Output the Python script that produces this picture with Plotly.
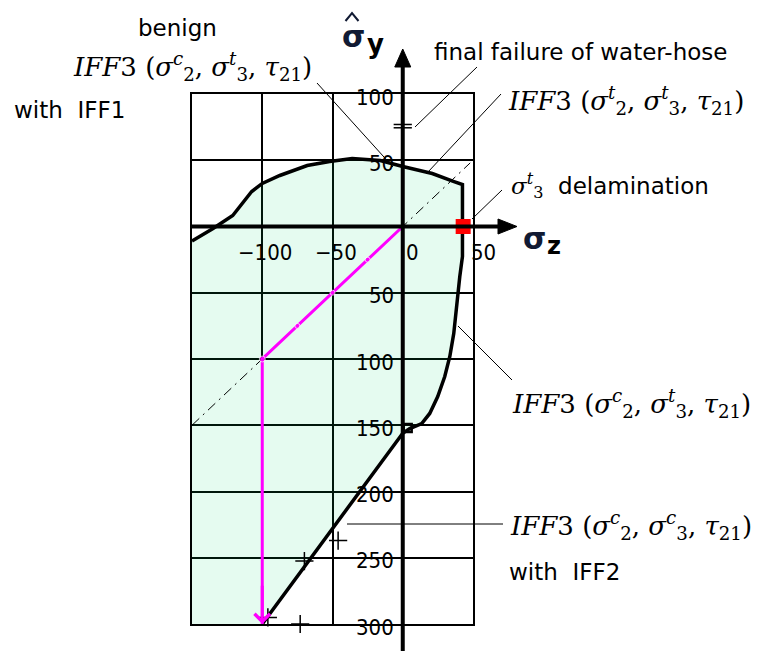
import plotly.graph_objects as go

# ---- data -------------------------------------------------------------
# failure envelope (sigma_z, sigma_y): top branch, vertical step, right branch, IFF2 diagonal
envelope_x = [-150, -135, -121, -107.5, -100, -87.5, -68, -52, -36, -16, 0, 21, 36, 42.5,
              42.5, 42.5, 40.6, 38.2, 36.3, 33.5, 29.9, 24.9, 19.2, 13.5, 5, 0, -48.4, -100]
envelope_y = [-11, -1.5, 8.3, 26.4, 32.5, 38.5, 46, 49, 51.3, 49.8, 45.3, 40, 34, 31.7,
              0, -22.6, -37.7, -63.4, -80.8, -98.1, -113.2, -128.3, -141.1, -148.7, -152.5, -156, -225.7, -300]

# load path (magenta): proportional loading then sigma_y only
path_x = [0, -25, -50, -75, -100, -100]
path_y = [0, -25, -50, -75, -100, -300]

# proportional loading ray sigma_y = sigma_z
ray_x = [-150, 48]
ray_y = [-150, 48]

# delamination point on the sigma_z axis
delam_x = [43]
delam_y = [0]

# computed points near the IFF2 branch
cross_x = [-46, -70, -96, -73]
cross_y = [-237, -252.5, -295, -300]

# water-hose final failure mark on the sigma_y axis
hose_x = [0, 0]
hose_y = [77, 74.5]

# mark where the right branch meets the sigma_y axis
meet_x = [3.5]
meet_y = [-152]

x_ticks = [-100, -50, 0, 50]
y_ticks = [100, 50, -50, -100, -150, -200, -250, -300]

X_RANGE = [-150, 50]
Y_RANGE = [-300, 100]

# ---- layout geometry ----------------------------------------------------
W, H = 759, 651
ML, MR, MT, MB = 192, 286, 94, 27
PW, PH = W - ML - MR, H - MT - MB


def xp(px):
    return (px - ML) / PW


def yp(py):
    return (H - MB - py) / PH


def dx(v):
    return (v - X_RANGE[0]) / (X_RANGE[1] - X_RANGE[0])


def dy(v):
    return (v - Y_RANGE[0]) / (Y_RANGE[1] - Y_RANGE[0])


SANS = "DejaVu Sans, Liberation Sans, sans-serif"
NARROW = "Liberation Sans Narrow, DejaVu Sans Condensed, Liberation Sans, sans-serif"
SERIF = "DejaVu Serif, Liberation Serif, serif"

fig = go.Figure()

# safe region fill
fig.add_trace(go.Scatter(
    x=envelope_x + [-150], y=envelope_y + [-300],
    fill="toself", fillcolor="rgba(0,215,110,0.10)",
    mode="lines", line=dict(width=0), hoverinfo="skip", showlegend=False))

# proportional ray
fig.add_trace(go.Scatter(
    x=ray_x, y=ray_y, mode="lines",
    line=dict(color="black", width=1, dash="10px,5px,2px,5px"),
    hoverinfo="skip", showlegend=False))

# envelope outline
fig.add_trace(go.Scatter(
    x=envelope_x, y=envelope_y, mode="lines",
    line=dict(color="black", width=3.5), hoverinfo="skip", showlegend=False))

# load path
fig.add_trace(go.Scatter(
    x=path_x, y=path_y, mode="lines+markers",
    line=dict(color="#ff00ff", width=3),
    marker=dict(color="#ff00ff", size=[0, 5, 5, 5, 6, 0]),
    hoverinfo="skip", showlegend=False))

# point markers
fig.add_trace(go.Scatter(
    x=cross_x, y=cross_y, mode="markers", cliponaxis=False,
    marker=dict(symbol="cross-thin", size=13, line=dict(color="black", width=1.5)),
    hoverinfo="skip", showlegend=False))
fig.add_trace(go.Scatter(
    x=hose_x, y=hose_y, mode="markers", cliponaxis=False,
    marker=dict(symbol="line-ew", size=13, line=dict(color="black", width=1.5)),
    hoverinfo="skip", showlegend=False))
fig.add_trace(go.Scatter(
    x=meet_x, y=meet_y, mode="markers", cliponaxis=False,
    marker=dict(symbol="square-open", size=8, color="black", line=dict(color="black", width=2.5)),
    hoverinfo="skip", showlegend=False))
fig.add_trace(go.Scatter(
    x=delam_x, y=delam_y, mode="markers", cliponaxis=False,
    marker=dict(symbol="square", size=15, color="#ff0000"),
    hoverinfo="skip", showlegend=False))

shapes = []
# sigma_y axis with arrow
x0p = dx(0)
shapes.append(dict(type="line", xref="paper", yref="paper", x0=x0p, x1=x0p,
                   y0=yp(H), y1=yp(64), line=dict(color="black", width=4)))
shapes.append(dict(type="path", xref="paper", yref="paper",
                   path=f"M{x0p - 8 / PW},{yp(67)} L{x0p},{yp(49)} L{x0p + 8 / PW},{yp(67)} Z",
                   fillcolor="black", line=dict(color="black", width=1)))
# sigma_z axis with arrow
y0p = dy(0)
shapes.append(dict(type="line", xref="paper", yref="paper", x0=dx(-150), x1=xp(501),
                   y0=y0p, y1=y0p, line=dict(color="black", width=4)))
shapes.append(dict(type="path", xref="paper", yref="paper",
                   path=f"M{xp(498)},{y0p + 7.5 / PH} L{xp(517)},{y0p} L{xp(498)},{y0p - 7.5 / PH} Z",
                   fillcolor="black", line=dict(color="black", width=1)))
# hat over the sigma_y symbol
shapes.append(dict(type="path", xref="paper", yref="paper",
                   path=f"M{xp(345.5)},{yp(21)} L{xp(352)},{yp(13)} L{xp(358.5)},{yp(21)}",
                   line=dict(color="#111a33", width=2)))

# leader lines
leaders = [((317, 83), (393, 167)),
           ((477, 67), (415, 127)),
           ((501, 94), (428, 172)),
           ((502, 190), (472, 219)),
           ((512, 380), (458, 326)),
           ((347, 524), (503, 524))]
for (a, b) in leaders:
    shapes.append(dict(type="line", xref="paper", yref="paper",
                       x0=xp(a[0]), y0=yp(a[1]), x1=xp(b[0]), y1=yp(b[1]),
                       line=dict(color="black", width=1)))

annotations = []


def label(text, px, py, size, family=SANS, xanchor="left", color="black"):
    annotations.append(dict(text=text, xref="paper", yref="paper", x=xp(px), y=yp(py),
                            xanchor=xanchor, yanchor="middle", showarrow=False,
                            font=dict(family=family, size=size, color=color)))


# tick labels next to the axes
for v in x_ticks:
    lab = str(v).replace("-", "−")
    annotations.append(dict(text=lab, xref="x", yref="paper", x=v, y=yp(252),
                            xanchor="center", yanchor="middle", showarrow=False,
                            xshift=3 if v < 0 else 10,
                            font=dict(family=NARROW, size=22, color="black")))
for v in y_ticks:
    annotations.append(dict(text=str(abs(v)), xref="paper", yref="y", x=xp(396), y=v,
                            xanchor="right", yanchor="middle", showarrow=False, yshift=-3,
                            font=dict(family=NARROW, size=22, color="black")))

# arrowhead of the load path
annotations.append(dict(text="", xref="x", yref="y", axref="x", ayref="y",
                        x=path_x[-1], y=path_y[-1], ax=path_x[-1], ay=path_y[-1] + 30,
                        showarrow=True, arrowhead=4, arrowsize=1, arrowwidth=3,
                        arrowcolor="#ff00ff", standoff=0))


def iff(s2, s3):
    return (f"<i>IFF</i>3 (<i>σ</i><sup><i>{s2}</i></sup><sub>2</sub>, "
            f"<i>σ</i><sup><i>{s3}</i></sup><sub>3</sub>, <i>τ</i><sub>21</sub>)")


label("benign", 177, 28, 23, xanchor="center")
label(iff("c", "t"), 71, 66, 26, family=SERIF)
label("with  IFF1", 12, 110, 23)
label("final failure of water-hose", 432, 52, 23)
label(iff("t", "t"), 506, 100, 26, family=SERIF)
label(f"<span style='font-family:{SERIF}'><i>σ</i><sup><i>t</i></sup><sub>3</sub></span>  delamination",
      509, 185, 23)
label(iff("c", "t"), 510, 403, 26, family=SERIF)
label(iff("c", "c"), 508, 525, 26, family=SERIF)
label("with  IFF2", 507, 572, 23)

# axis titles
label("<b>σ</b>", 353, 37, 30, xanchor="center", color="#111a33")
label("<b>y</b>", 375, 44, 26, xanchor="center")
label("<b>σ</b>", 534, 238, 30, xanchor="center", color="#111a33")
label("<b>z</b>", 554, 246, 24, xanchor="center")

axis_common = dict(showgrid=True, gridcolor="black", gridwidth=1.5, dtick=50, tick0=0,
                   showline=True, linecolor="black", linewidth=1.5, mirror=True,
                   zeroline=False, showticklabels=False, ticks="", fixedrange=True)

fig.update_layout(
    width=W, height=H,
    margin=dict(l=ML, r=MR, t=MT, b=MB, pad=0),
    paper_bgcolor="white", plot_bgcolor="white",
    xaxis=dict(range=X_RANGE, **axis_common),
    yaxis=dict(range=Y_RANGE, **axis_common),
    shapes=shapes, annotations=annotations,
    showlegend=False,
)

fig.write_html("out.html")
